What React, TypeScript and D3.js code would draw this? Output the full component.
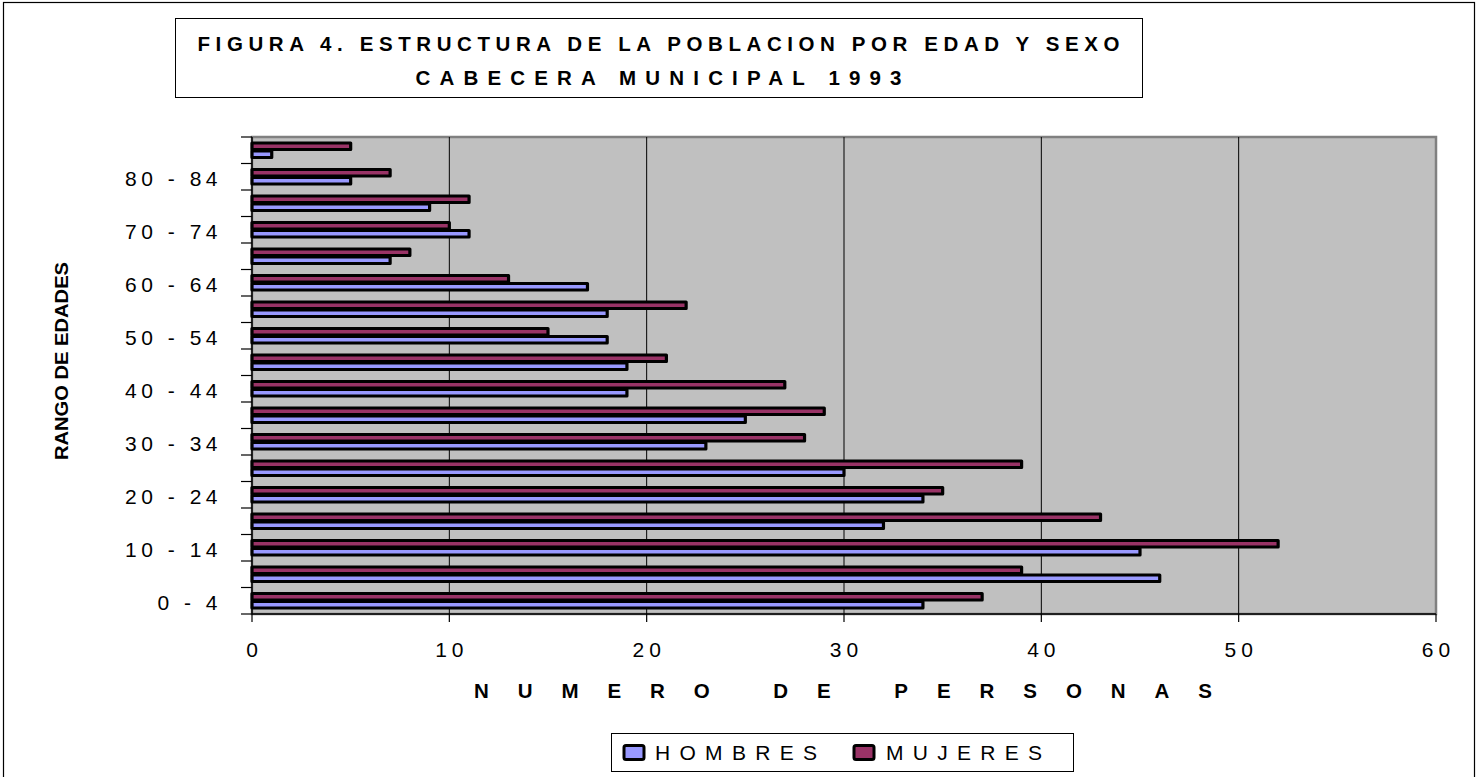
import React, { useEffect, useRef } from 'react';
import * as d3 from 'd3';

// age groups, bottom to top
const ageGroups = [
    '0 - 4', '5 - 9', '10 - 14', '15 - 19', '20 - 24', '25 - 29', '30 - 34', '35 - 39',
    '40 - 44', '45 - 49', '50 - 54', '55 - 59', '60 - 64', '65 - 69', '70 - 74', '75 - 79',
    '80 - 84', '85 +'
];
// only every other group gets a label
const shownLabels = ['0 - 4', '10 - 14', '20 - 24', '30 - 34', '40 - 44', '50 - 54', '60 - 64', '70 - 74', '80 - 84'];

const hombres = [34, 46, 45, 32, 34, 30, 23, 25, 19, 19, 18, 18, 17, 7, 11, 9, 5, 1];
const mujeres = [37, 39, 52, 43, 35, 39, 28, 29, 27, 21, 15, 22, 13, 8, 10, 11, 7, 5];

const seriesNames = ['MUJERES', 'HOMBRES'];
const xTicks = [0, 10, 20, 30, 40, 50, 60];

const W = 1479;
const H = 777;

const App: React.FC = () => {
    const svgRef = useRef<SVGSVGElement>(null);

    useEffect(() => {
        if (!svgRef.current) return;
        const svg = d3.select(svgRef.current);
        svg.selectAll('*').remove();

        const font = 'Arial, "Liberation Sans", sans-serif';
        const plot = { left: 252, right: 1436, top: 137, bottom: 614 };

        // outer frame
        svg.append('rect')
            .attr('x', 3.5).attr('y', 2.5)
            .attr('width', 1471).attr('height', 820)
            .attr('fill', '#fff')
            .attr('stroke', '#000')
            .attr('stroke-width', 1.2);

        // title box
        svg.append('rect')
            .attr('x', 175.5).attr('y', 18.5)
            .attr('width', 967).attr('height', 79)
            .attr('fill', '#fff')
            .attr('stroke', '#000')
            .attr('stroke-width', 1);

        const titleLines = [
            { text: 'FIGURA 4. ESTRUCTURA DE LA POBLACION POR EDAD Y SEXO', y: 51, len: 922 },
            { text: 'CABECERA MUNICIPAL 1993', y: 85, len: 486 }
        ];
        titleLines.forEach(t => {
            svg.append('text')
                .attr('x', 658.5)
                .attr('y', t.y)
                .attr('text-anchor', 'middle')
                .attr('font-family', font)
                .attr('font-size', 20.5)
                .attr('font-weight', 'bold')
                .attr('textLength', t.len)
                .attr('lengthAdjust', 'spacing')
                .text(t.text);
        });

        // scales
        const x = d3.scaleLinear().domain([0, 60]).range([plot.left, plot.right]);
        const y = d3.scaleBand<string>()
            .domain([...ageGroups].reverse())
            .range([plot.top, plot.bottom]);
        const sub = d3.scaleBand<string>().domain(seriesNames).range([-8, 8]);

        // plot background
        svg.append('rect')
            .attr('x', plot.left).attr('y', plot.top)
            .attr('width', plot.right - plot.left)
            .attr('height', plot.bottom - plot.top)
            .attr('fill', '#c0c0c0')
            .attr('stroke', '#808080')
            .attr('stroke-width', 2.5);

        // vertical gridlines
        svg.append('g')
            .selectAll('line')
            .data(xTicks.filter(d => d > 0 && d < 60))
            .enter()
            .append('line')
            .attr('x1', d => x(d)).attr('x2', d => x(d))
            .attr('y1', plot.top).attr('y2', plot.bottom)
            .attr('stroke', '#000')
            .attr('stroke-width', 1);

        // bars
        const rows = ageGroups.map((g, i) => ({ group: g, HOMBRES: hombres[i], MUJERES: mujeres[i] }));
        const colors: Record<string, string> = { HOMBRES: '#9999ff', MUJERES: '#993366' };
        const barH = 6.5;

        seriesNames.forEach(s => {
            svg.append('g')
                .selectAll('rect')
                .data(rows)
                .enter()
                .append('rect')
                .attr('x', x(0))
                .attr('y', d => (y(d.group) as number) + y.bandwidth() / 2 + (sub(s) as number) + (sub.bandwidth() - barH) / 2)
                .attr('width', d => x((d as any)[s]) - x(0))
                .attr('height', barH)
                .attr('fill', colors[s])
                .attr('stroke', '#000')
                .attr('stroke-width', 3.2)
                .attr('stroke-linejoin', 'round');
        });

        // y axis
        const yAxis = svg.append('g');
        yAxis.append('line')
            .attr('x1', plot.left).attr('x2', plot.left)
            .attr('y1', plot.top).attr('y2', plot.bottom)
            .attr('stroke', '#000').attr('stroke-width', 1.5);
        const bounds = d3.range(ageGroups.length + 1).map(i => plot.top + i * y.step());
        yAxis.selectAll('line.tick')
            .data(bounds)
            .enter()
            .append('line')
            .attr('class', 'tick')
            .attr('x1', plot.left - 11).attr('x2', plot.left)
            .attr('y1', d => d).attr('y2', d => d)
            .attr('stroke', '#000').attr('stroke-width', 1.2);
        yAxis.selectAll('text')
            .data(shownLabels)
            .enter()
            .append('text')
            .attr('x', 222)
            .attr('y', d => (y(d) as number) + y.bandwidth() / 2 + 2)
            .attr('dy', '0.35em')
            .attr('text-anchor', 'end')
            .attr('font-family', font)
            .attr('font-size', 21)
            .style('letter-spacing', '4.5px')
            .text(d => d);

        // x axis
        const xAxis = svg.append('g');
        xAxis.append('line')
            .attr('x1', plot.left).attr('x2', plot.right)
            .attr('y1', plot.bottom).attr('y2', plot.bottom)
            .attr('stroke', '#000').attr('stroke-width', 1.5);
        xAxis.selectAll('line.tick')
            .data(xTicks)
            .enter()
            .append('line')
            .attr('class', 'tick')
            .attr('x1', d => x(d)).attr('x2', d => x(d))
            .attr('y1', plot.bottom).attr('y2', plot.bottom + 8)
            .attr('stroke', '#000').attr('stroke-width', 1.2);
        xAxis.selectAll('text')
            .data(xTicks)
            .enter()
            .append('text')
            .attr('x', d => x(d) + 2.5)
            .attr('y', 657)
            .attr('text-anchor', 'middle')
            .attr('font-family', font)
            .attr('font-size', 21)
            .style('letter-spacing', '5px')
            .text(d => String(d));

        // axis titles
        svg.append('text')
            .attr('x', 843)
            .attr('y', 698)
            .attr('text-anchor', 'middle')
            .attr('font-family', font)
            .attr('font-size', 20.5)
            .attr('font-weight', 'bold')
            .attr('textLength', 738)
            .attr('lengthAdjust', 'spacing')
            .text('NUMERO DE PERSONAS');

        svg.append('text')
            .attr('transform', 'translate(68, 361) rotate(-90)')
            .attr('text-anchor', 'middle')
            .attr('font-family', font)
            .attr('font-size', 18.5)
            .attr('font-weight', 'bold')
            .attr('textLength', 198)
            .attr('lengthAdjust', 'spacingAndGlyphs')
            .text('RANGO DE EDADES');

        // legend
        svg.append('rect')
            .attr('x', 611.5).attr('y', 733.5)
            .attr('width', 462).attr('height', 38)
            .attr('fill', '#fff')
            .attr('stroke', '#000')
            .attr('stroke-width', 1);

        const legendItems = [
            { name: 'HOMBRES', sx: 624, tx: 655, len: 162 },
            { name: 'MUJERES', sx: 854, tx: 886, len: 156 }
        ];
        legendItems.forEach(it => {
            svg.append('rect')
                .attr('x', it.sx).attr('y', 745.5)
                .attr('width', 20).attr('height', 14)
                .attr('rx', 2)
                .attr('fill', colors[it.name])
                .attr('stroke', '#000')
                .attr('stroke-width', 3);
            svg.append('text')
                .attr('x', it.tx)
                .attr('y', 760)
                .attr('font-family', font)
                .attr('font-size', 21)
                .attr('textLength', it.len)
                .attr('lengthAdjust', 'spacing')
                .text(it.name);
        });
    }, []);

    return (
        <svg
            ref={svgRef}
            width={W}
            height={H}
            style={{ position: 'absolute', left: 0, top: 0, display: 'block', background: '#fff' }}
        />
    );
};

export default App;
